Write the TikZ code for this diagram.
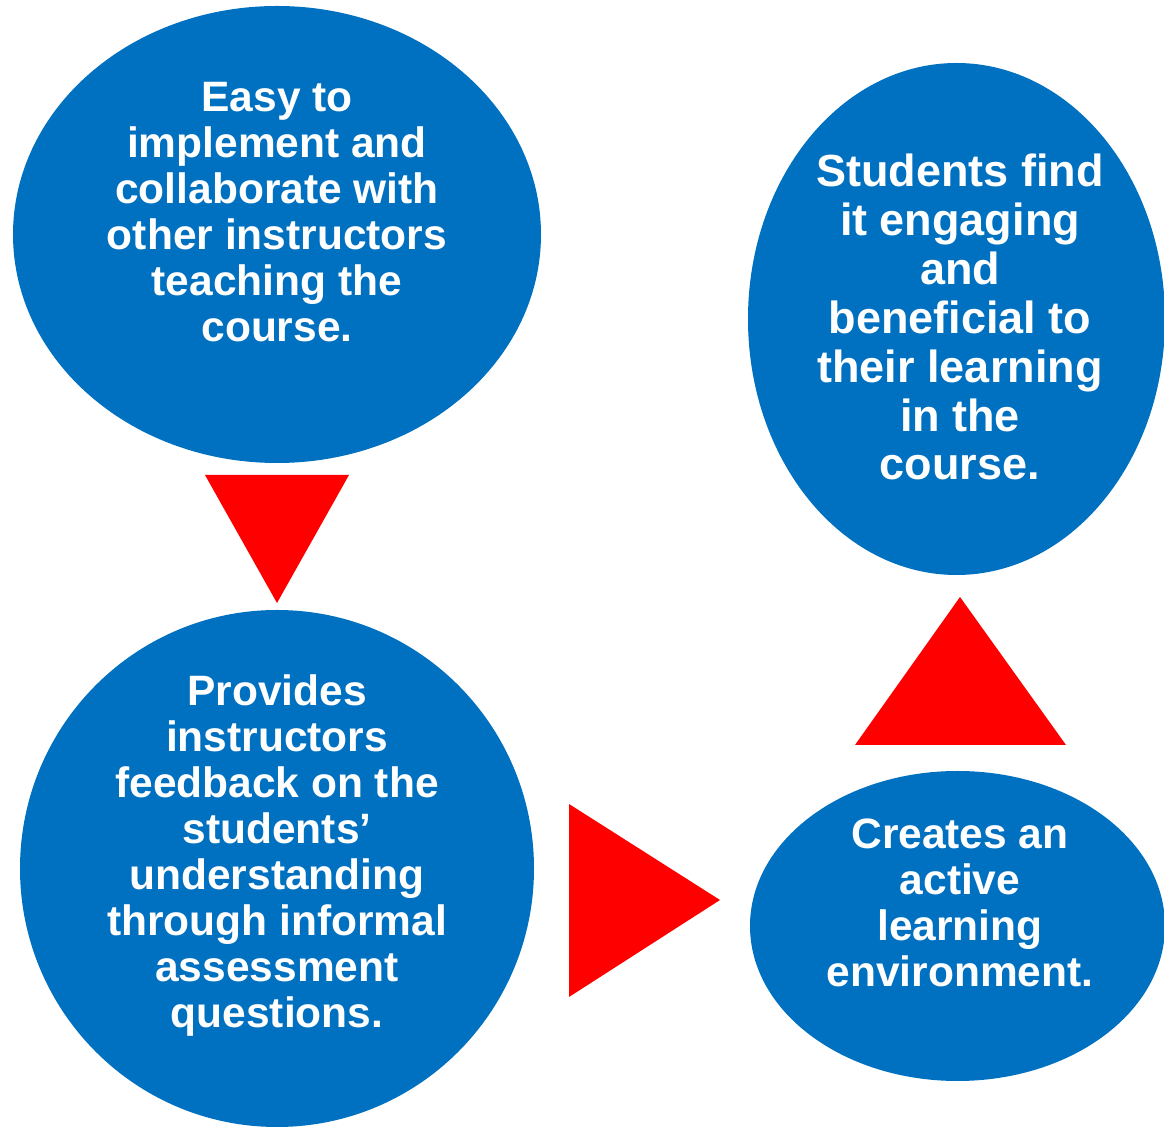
\documentclass[tikz,border=0pt]{standalone}
\usepackage{fontspec}
\setmainfont{Liberation Sans}
\usetikzlibrary{shapes.geometric}
\definecolor{bubbleblue}{HTML}{0070C0}
\definecolor{arrowred}{HTML}{FF0000}
\begin{document}
\begin{tikzpicture}[x=0.5pt, y=-0.5pt,
        main/.style = {ellipse, fill=bubbleblue, inner sep=0pt},
        words/.style = {text=white, align=center, anchor=north, inner sep=0pt,
            font={\fontsize{21.25}{23}\selectfont\bfseries}},
        bigwords/.style = {words, font={\fontsize{22.5}{24.5}\selectfont\bfseries}},
        tip/.style = {fill=arrowred}]
    \useasboundingbox (0,0) rectangle (1164,1127);
    % Nodes
    \node[main, minimum width=264pt, minimum height=228.5pt] (E1) at (277,234.5) {};
    \node[main, minimum width=257pt, minimum height=258.5pt] (E2) at (277,868.5) {};
    \node[main, minimum width=207.5pt, minimum height=155pt] (E3) at (957.5,926) {};
    \node[main, minimum width=208.5pt, minimum height=256pt] (E4) at (956.5,319) {};

    % Texts
    \node[words] (T1) at (277,82) {Easy to\\implement and\\collaborate with\\other instructors\\teaching the\\course.};
    \node[words] (T2) at (277,674) {Provides\\instructors\\feedback on the\\students’\\understanding\\through informal\\assessment\\questions.};
    \node[words] (T3) at (960,818) {Creates an\\active\\learning\\environment.};
    \node[bigwords] (T4) at (960,153) {Students find\\it engaging\\and\\beneficial to\\their learning\\in the\\course.};

    % Arrows
    \fill[tip] (205,475) -- (349,475) -- (277,603) -- cycle;
    \fill[tip] (569,804) -- (720,900) -- (569,997) -- cycle;
    \fill[tip] (855,745) -- (960,597) -- (1066,745) -- cycle;
\end{tikzpicture}
\end{document}
